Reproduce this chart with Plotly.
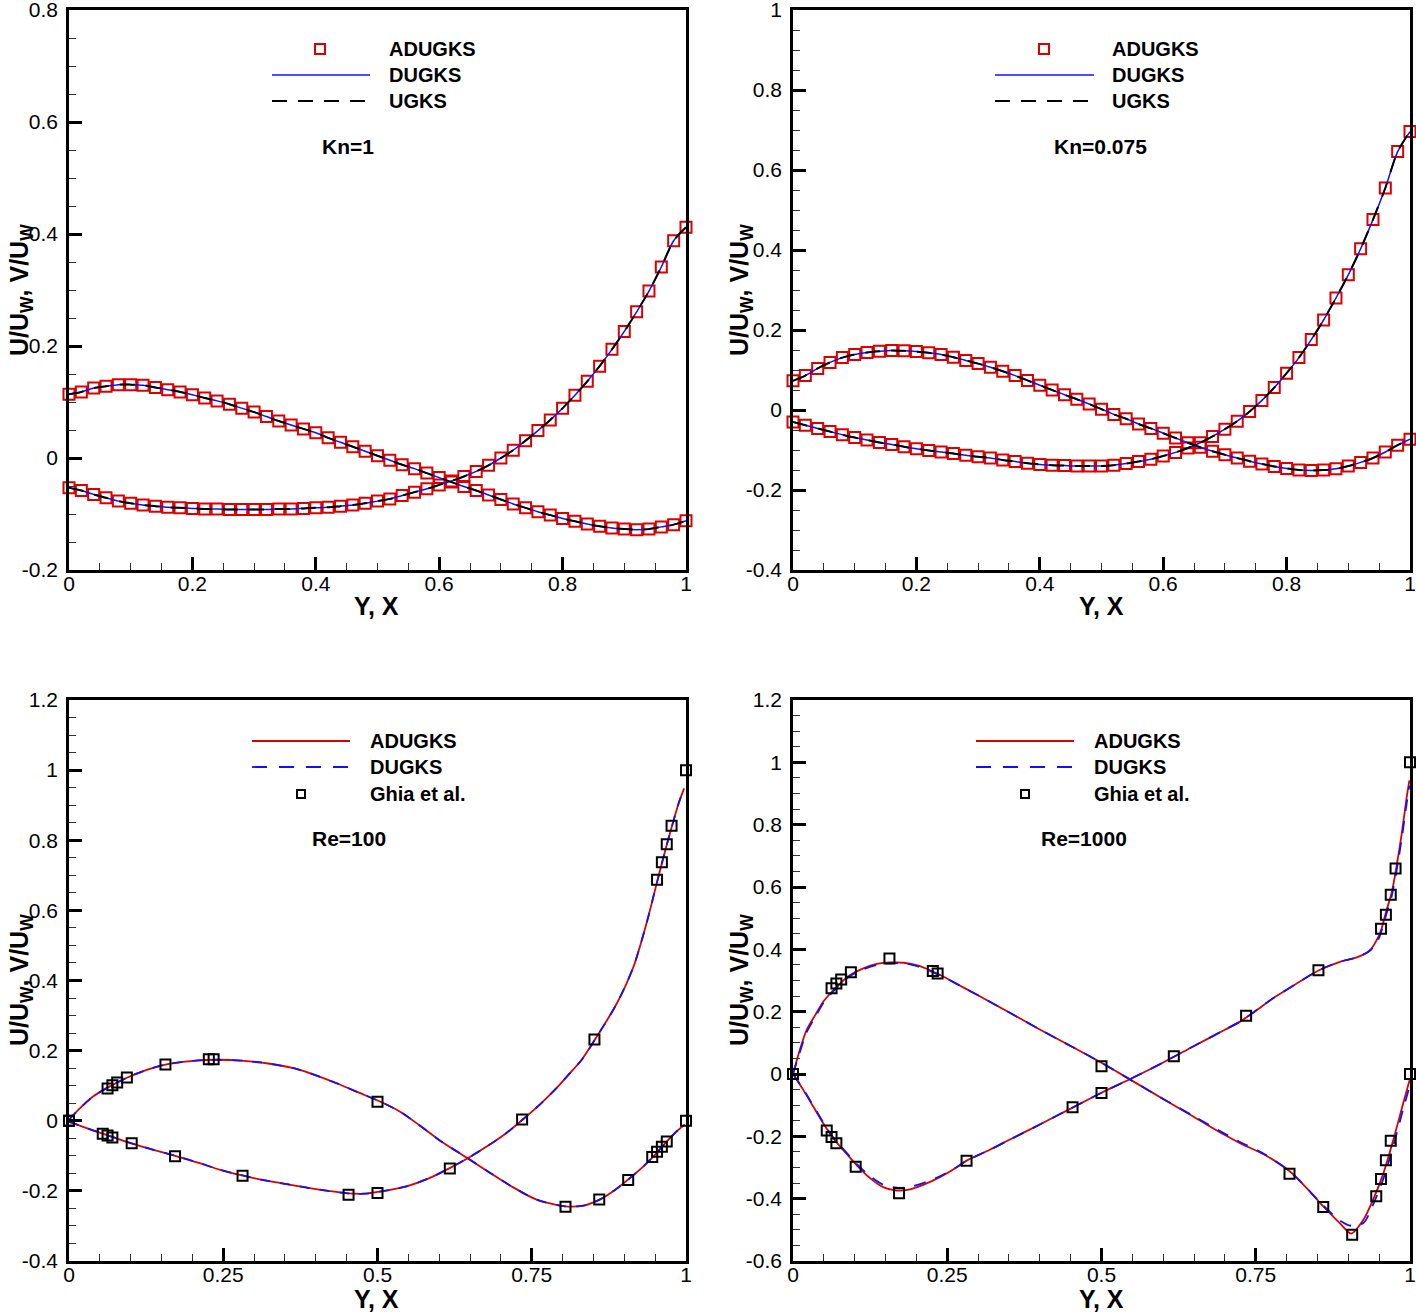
import plotly.graph_objects as go

W, H = 1416, 1314

# ---------------- data ----------------
# Top panels: ADUGKS markers every 0.02 along the centrelines
x_grid = [0, 0.02, 0.04, 0.06, 0.08, 0.10, 0.12, 0.14, 0.16, 0.18,
          0.20, 0.22, 0.24, 0.26, 0.28, 0.30, 0.32, 0.34, 0.36, 0.38,
          0.40, 0.42, 0.44, 0.46, 0.48, 0.50, 0.52, 0.54, 0.56, 0.58,
          0.60, 0.62, 0.64, 0.66, 0.68, 0.70, 0.72, 0.74, 0.76, 0.78,
          0.80, 0.82, 0.84, 0.86, 0.88, 0.90, 0.92, 0.94, 0.96, 0.98, 1.0]

# Kn = 1
kn1_u = [-0.053, -0.058, -0.065, -0.071, -0.077, -0.081, -0.084, -0.086, -0.088, -0.089,
         -0.090, -0.091, -0.091, -0.092, -0.092, -0.092, -0.092, -0.091, -0.091, -0.090,
         -0.089, -0.088, -0.086, -0.084, -0.081, -0.077, -0.073, -0.067, -0.061, -0.055,
         -0.048, -0.041, -0.033, -0.024, -0.013, 0.000, 0.014, 0.031, 0.049, 0.068,
         0.089, 0.112, 0.137, 0.164, 0.194, 0.226, 0.261, 0.298, 0.341, 0.388, 0.412]
kn1_v = [0.114, 0.118, 0.125, 0.128, 0.131, 0.131, 0.130, 0.126, 0.122, 0.118,
         0.113, 0.107, 0.102, 0.096, 0.089, 0.082, 0.074, 0.066, 0.059, 0.052,
         0.045, 0.036, 0.028, 0.020, 0.012, 0.004, -0.004, -0.012, -0.019, -0.027,
         -0.035, -0.043, -0.051, -0.058, -0.066, -0.074, -0.082, -0.089, -0.096, -0.102,
         -0.108, -0.113, -0.118, -0.122, -0.125, -0.127, -0.128, -0.127, -0.123, -0.119, -0.112]

# Kn = 0.075
kn075_u = [-0.030, -0.038, -0.046, -0.054, -0.062, -0.069, -0.075, -0.081, -0.086, -0.092,
           -0.097, -0.101, -0.105, -0.109, -0.113, -0.117, -0.120, -0.125, -0.129, -0.133,
           -0.136, -0.138, -0.139, -0.140, -0.140, -0.140, -0.138, -0.134, -0.129, -0.123,
           -0.115, -0.106, -0.095, -0.082, -0.066, -0.048, -0.028, -0.004, 0.024, 0.056,
           0.092, 0.131, 0.176, 0.225, 0.280, 0.338, 0.403, 0.476, 0.555, 0.646, 0.696]
kn075_v = [0.073, 0.086, 0.104, 0.119, 0.131, 0.139, 0.144, 0.147, 0.149, 0.148,
           0.146, 0.143, 0.139, 0.132, 0.124, 0.116, 0.107, 0.097, 0.086, 0.074,
           0.062, 0.050, 0.038, 0.027, 0.015, 0.002, -0.011, -0.022, -0.035, -0.046,
           -0.058, -0.070, -0.082, -0.093, -0.103, -0.112, -0.120, -0.128, -0.135, -0.141,
           -0.146, -0.150, -0.151, -0.150, -0.147, -0.140, -0.131, -0.120, -0.105, -0.088, -0.073]

# DUGKS and UGKS curves coincide with ADUGKS at the picture's resolution
dugks_kn1_u, ugks_kn1_u = kn1_u, kn1_u
dugks_kn1_v, ugks_kn1_v = kn1_v, kn1_v
dugks_kn075_u, ugks_kn075_u = kn075_u, kn075_u
dugks_kn075_v, ugks_kn075_v = kn075_v, kn075_v

# Re = 100 (ADUGKS and DUGKS curves overlap)
re100_u_y = [0.0, 0.04, 0.07, 0.104, 0.137, 0.172, 0.212, 0.245, 0.281, 0.32, 0.364,
             0.39, 0.42, 0.452, 0.48, 0.504, 0.547, 0.585, 0.617, 0.647, 0.682, 0.709,
             0.735, 0.763, 0.79, 0.812, 0.831, 0.853, 0.888, 0.915, 0.936, 0.954,
             0.969, 0.988, 0.997]
re100_u = [-0.003, -0.028, -0.046, -0.066, -0.083, -0.100, -0.121, -0.140, -0.156, -0.171, -0.184,
           -0.192, -0.200, -0.207, -0.208, -0.202, -0.187, -0.163, -0.135, -0.106, -0.068, -0.035,
           0.003, 0.046, 0.093, 0.136, 0.174, 0.233, 0.335, 0.440, 0.563, 0.687,
           0.788, 0.905, 0.948]
re100_v_x = [0.0, 0.018, 0.039, 0.061, 0.093, 0.126, 0.158, 0.2015, 0.239, 0.283, 0.32,
             0.364, 0.39, 0.438, 0.47, 0.504, 0.536, 0.569, 0.601, 0.647, 0.682, 0.72,
             0.758, 0.804, 0.834, 0.86, 0.882, 0.906, 0.931, 0.947, 0.969, 0.985, 0.998]
re100_v = [0.003, 0.036, 0.069, 0.093, 0.122, 0.145, 0.161, 0.171, 0.174, 0.171, 0.164,
           0.150, 0.136, 0.104, 0.080, 0.055, 0.0265, -0.014, -0.056, -0.108, -0.148, -0.190,
           -0.225, -0.244, -0.242, -0.225, -0.201, -0.168, -0.130, -0.102, -0.059, -0.030, -0.011]
dugks_re100_u = re100_u
dugks_re100_v = re100_v

# Re = 1000
re1000_u_y = [0.0, 0.0167, 0.033, 0.049, 0.065, 0.0816, 0.103, 0.125, 0.146, 0.168, 0.19,
              0.211, 0.238, 0.265, 0.2815, 0.319, 0.35, 0.40, 0.45, 0.50, 0.55, 0.60, 0.65,
              0.70, 0.7245, 0.75, 0.778, 0.80, 0.8525, 0.8865, 0.9136, 0.935, 0.9487,
              0.954, 0.962, 0.970, 0.978, 0.9866, 0.9947, 0.999]
re1000_u = [0.0, -0.051, -0.105, -0.158, -0.206, -0.244, -0.292, -0.334, -0.363, -0.374, -0.370,
            -0.356, -0.331, -0.300, -0.278, -0.243, -0.212, -0.162, -0.111, -0.060, -0.013, 0.037, 0.090,
            0.142, 0.168, 0.203, 0.243, 0.270, 0.333, 0.360, 0.374, 0.397, 0.440,
            0.467, 0.526, 0.579, 0.664, 0.771, 0.889, 0.942]
dugks_re1000_u = [0.0, -0.049, -0.102, -0.155, -0.203, -0.241, -0.288, -0.328, -0.355, -0.365, -0.362,
                  -0.350, -0.328, -0.299, -0.278, -0.243, -0.212, -0.162, -0.111, -0.060, -0.013, 0.037, 0.090,
                  0.142, 0.168, 0.203, 0.243, 0.270, 0.333, 0.360, 0.374, 0.395, 0.432,
                  0.460, 0.515, 0.568, 0.650, 0.755, 0.870, 0.925]
re1000_v_x = [0.0, 0.011, 0.022, 0.036, 0.049, 0.063, 0.076, 0.092, 0.114, 0.136, 0.157,
              0.179, 0.2, 0.222, 0.244, 0.276, 0.319, 0.35, 0.40, 0.45, 0.50, 0.55, 0.60,
              0.65, 0.70, 0.7245, 0.765, 0.8055, 0.8326, 0.8595, 0.8865, 0.905, 0.9244,
              0.94, 0.957, 0.973, 0.989, 1.0]
re1000_v = [0.0, 0.077, 0.141, 0.189, 0.232, 0.264, 0.290, 0.317, 0.339, 0.353, 0.358,
            0.357, 0.349, 0.333, 0.312, 0.278, 0.232, 0.198, 0.143, 0.090, 0.036, -0.022, -0.080,
            -0.138, -0.196, -0.222, -0.260, -0.313, -0.366, -0.425, -0.479, -0.512, -0.468,
            -0.404, -0.318, -0.211, -0.094, -0.015]
dugks_re1000_v = [0.0, 0.070, 0.133, 0.183, 0.227, 0.260, 0.287, 0.314, 0.336, 0.350, 0.355,
                  0.355, 0.347, 0.331, 0.311, 0.278, 0.232, 0.198, 0.143, 0.090, 0.036, -0.022, -0.080,
                  -0.136, -0.192, -0.218, -0.258, -0.313, -0.366, -0.422, -0.470, -0.487, -0.478,
                  -0.420, -0.335, -0.230, -0.112, -0.035]

# Ghia et al. benchmark
ghia_y = [0.0, 0.0547, 0.0625, 0.0703, 0.1016, 0.1719, 0.2813, 0.4531, 0.5, 0.6172,
          0.7344, 0.8516, 0.9531, 0.9609, 0.9688, 0.9766, 1.0]
ghia_u100 = [0.0, -0.03717, -0.04192, -0.04775, -0.06434, -0.10150, -0.15662, -0.21090, -0.20581,
             -0.13641, 0.00332, 0.23151, 0.68717, 0.73722, 0.78871, 0.84123, 1.0]
ghia_u1000 = [0.0, -0.18109, -0.20196, -0.22220, -0.29730, -0.38289, -0.27805, -0.10648, -0.06080,
              0.05702, 0.18719, 0.33304, 0.46604, 0.51117, 0.57492, 0.65928, 1.0]
ghia_x = [0.0, 0.0625, 0.0703, 0.0781, 0.0938, 0.1563, 0.2266, 0.2344, 0.5, 0.8047,
          0.8594, 0.9063, 0.9453, 0.9531, 0.9609, 0.9688, 1.0]
ghia_v100 = [0.0, 0.09233, 0.10091, 0.10890, 0.12317, 0.16077, 0.17507, 0.17527, 0.05454,
             -0.24533, -0.22445, -0.16914, -0.10313, -0.08864, -0.07391, -0.05906, 0.0]
ghia_v1000 = [0.0, 0.27485, 0.29012, 0.30353, 0.32627, 0.37095, 0.33075, 0.32235, 0.02526,
              -0.31966, -0.42665, -0.51550, -0.39188, -0.33714, -0.27669, -0.21388, 0.0]

# axis ticks
top_x_ticks = [0, 0.2, 0.4, 0.6, 0.8, 1]
top_x_text = ["0", "0.2", "0.4", "0.6", "0.8", "1"]
bot_x_ticks = [0, 0.25, 0.5, 0.75, 1]
bot_x_text = ["0", "0.25", "0.5", "0.75", "1"]
y1_ticks = [-0.2, 0, 0.2, 0.4, 0.6, 0.8]
y1_text = ["-0.2", "0", "0.2", "0.4", "0.6", "0.8"]
y2_ticks = [-0.4, -0.2, 0, 0.2, 0.4, 0.6, 0.8, 1]
y2_text = ["-0.4", "-0.2", "0", "0.2", "0.4", "0.6", "0.8", "1"]
y3_ticks = [-0.4, -0.2, 0, 0.2, 0.4, 0.6, 0.8, 1, 1.2]
y3_text = ["-0.4", "-0.2", "0", "0.2", "0.4", "0.6", "0.8", "1", "1.2"]
y4_ticks = [-0.6, -0.4, -0.2, 0, 0.2, 0.4, 0.6, 0.8, 1, 1.2]
y4_text = ["-0.6", "-0.4", "-0.2", "0", "0.2", "0.4", "0.6", "0.8", "1", "1.2"]

panel_labels = ["Kn=1", "Kn=0.075", "Re=100", "Re=1000"]
top_legend = ["ADUGKS", "DUGKS", "UGKS"]
bot_legend = ["ADUGKS", "DUGKS", "Ghia et al."]

# ---------------- styling ----------------
RED = "#DC0000"
BLUE = "#1010FF"
BLACK = "#000000"
FONT = "Liberation Sans, Arial, sans-serif"
DASH = "15px,11px"

fig = go.Figure()


def add(x, y, ax, **kw):
    fig.add_trace(go.Scatter(x=x, y=y, xaxis="x" + ax, yaxis="y" + ax,
                             showlegend=False, hoverinfo="skip", **kw))


def markers(x, y, ax, color, size=10):
    add(x, y, ax, mode="markers", cliponaxis=False,
        marker=dict(symbol="square-open", size=size, color=color, line=dict(width=2, color=color)))


def line(x, y, ax, color, dash=None, width=1.6):
    add(x, y, ax, mode="lines",
        line=dict(color=color, width=width, dash=dash, shape="spline", smoothing=0.8))


# Panel 1 (Kn=1) and Panel 2 (Kn=0.075)
for ax, u, v, du, dv, gu, gv in [
        ("", kn1_u, kn1_v, dugks_kn1_u, dugks_kn1_v, ugks_kn1_u, ugks_kn1_v),
        ("2", kn075_u, kn075_v, dugks_kn075_u, dugks_kn075_v, ugks_kn075_u, ugks_kn075_v)]:
    markers(x_grid, u, ax, RED, 11)
    markers(x_grid, v, ax, RED, 11)
    line(x_grid, du, ax, BLUE, None, 1.5)
    line(x_grid, dv, ax, BLUE, None, 1.5)
    line(x_grid, gu, ax, BLACK, DASH, 2)
    line(x_grid, gv, ax, BLACK, DASH, 2)

# Panel 3 (Re=100)
line(re100_u_y, re100_u, "3", RED, None, 1.8)
line(re100_v_x, re100_v, "3", RED, None, 1.8)
line(re100_u_y, dugks_re100_u, "3", BLUE, "10px,10px", 1.8)
line(re100_v_x, dugks_re100_v, "3", BLUE, "10px,10px", 1.8)
markers(ghia_y, ghia_u100, "3", BLACK, 10)
markers(ghia_x, ghia_v100, "3", BLACK, 10)

# Panel 4 (Re=1000)
line(re1000_u_y, re1000_u, "4", RED, None, 1.8)
line(re1000_v_x, re1000_v, "4", RED, None, 1.8)
line(re1000_u_y, dugks_re1000_u, "4", BLUE, "12px,10px", 1.8)
line(re1000_v_x, dugks_re1000_v, "4", BLUE, "12px,10px", 1.8)
markers(ghia_y, ghia_u1000, "4", BLACK, 10)
markers(ghia_x, ghia_v1000, "4", BLACK, 10)

# ---------------- layout ----------------
def px(x):
    return x / W


def py(y):
    return 1 - y / H


XL = [px(69), px(686)]
XR = [px(793), px(1410)]
YT = [py(570), py(10)]
YB = [py(1261), py(700)]


def xaxis(domain, anchor, ticks, text):
    return dict(domain=domain, anchor=anchor, range=[0, 1], tickmode="array", automargin=False,
                tickvals=ticks, ticktext=text, showline=True, linecolor=BLACK, linewidth=2.5,
                mirror=True, ticks="inside", ticklen=13, tickwidth=2.5, tickcolor=BLACK,
                showgrid=False, zeroline=False, ticklabelstandoff=-7, ticklabeloverflow="allow",
                tickfont=dict(family=FONT, size=21, color=BLACK),
                minor=dict(tickmode="linear", tick0=0, dtick=0.05, ticks="inside",
                           ticklen=7, tickwidth=1, tickcolor="#333333", showgrid=False))


def yaxis(domain, anchor, rng, ticks, text):
    d = xaxis(domain, anchor, ticks, text)
    d["range"] = rng
    d["ticklabelstandoff"] = 4
    return d


fig.update_layout(
    width=W, height=H, margin=dict(l=0, r=0, t=0, b=0, autoexpand=False),
    paper_bgcolor="white", plot_bgcolor="white", showlegend=False,
    xaxis=xaxis(XL, "y", top_x_ticks, top_x_text),
    yaxis=yaxis(YT, "x", [-0.2, 0.8], y1_ticks, y1_text),
    xaxis2=xaxis(XR, "y2", top_x_ticks, top_x_text),
    yaxis2=yaxis(YT, "x2", [-0.4, 1.0], y2_ticks, y2_text),
    xaxis3=xaxis(XL, "y3", bot_x_ticks, bot_x_text),
    yaxis3=yaxis(YB, "x3", [-0.4, 1.2], y3_ticks, y3_text),
    xaxis4=xaxis(XR, "y4", bot_x_ticks, bot_x_text),
    yaxis4=yaxis(YB, "x4", [-0.6, 1.2], y4_ticks, y4_text),
)

ann = []
shapes = []


def text(x, y, s, size, anchor="center", angle=0):
    ann.append(dict(x=px(x), y=py(y), xref="paper", yref="paper", text=s, showarrow=False,
                    xanchor=anchor, yanchor="middle", textangle=angle,
                    font=dict(family=FONT, size=size, color=BLACK)))


# axis titles
ytitle = "<b>U/U<sub>W</sub>, V/U<sub>W</sub></b>"
for xc, yc in [(21, 290), (741, 290), (21, 980), (741, 980)]:
    text(xc, yc, ytitle, 25, angle=-90)
for xc, yc in [(377, 606), (1101, 606), (377, 1299), (1101, 1299)]:
    text(xc, yc, "<b>Y, X</b>", 25)

# panel labels
for (xc, yc), s in zip([(348, 147), (1100, 147), (349, 838), (1084, 838)], panel_labels):
    text(xc, yc, "<b>%s</b>" % s, 21)


def leg_line(x0, x1, y, color, dash=None, width=1.6):
    shapes.append(dict(type="line", xref="paper", yref="paper", x0=px(x0), x1=px(x1),
                       y0=py(y), y1=py(y), line=dict(color=color, width=width, dash=dash)))


def leg_square(xc, yc, color, half=5):
    shapes.append(dict(type="rect", xref="paper", yref="paper", x0=px(xc - half), x1=px(xc + half),
                       y0=py(yc - half), y1=py(yc + half), line=dict(color=color, width=2)))


# top legends
for x0, x1, xm, xt in [(272, 370, 320, 387), (995, 1094, 1044, 1110)]:
    leg_square(xm, 49, RED)
    leg_line(x0, x1, 75, BLUE, None, 1.5)
    leg_line(x0, x1, 101, BLACK, DASH, 2)
    for yy, s in zip([49, 75, 101], top_legend):
        text(xt, yy, "<b>%s</b>" % s, 20, anchor="left")

# bottom legends
for x0, x1, xm, xt in [(252, 350, 301, 368), (976, 1074, 1025, 1092)]:
    leg_line(x0, x1, 741, RED, None, 1.8)
    leg_line(x0, x1, 767, BLUE, "15px,12px", 1.8)
    leg_square(xm, 794, BLACK, 4)
    for yy, s in zip([741, 767, 794], bot_legend):
        text(xt, yy, "<b>%s</b>" % s, 20, anchor="left")

fig.update_layout(annotations=ann, shapes=shapes)
# remove the browser's default 8px page margin so the figure sits at the window origin
fig.write_html("out.html", config={"displayModeBar": False},
               post_script="document.body.style.margin='0';")
